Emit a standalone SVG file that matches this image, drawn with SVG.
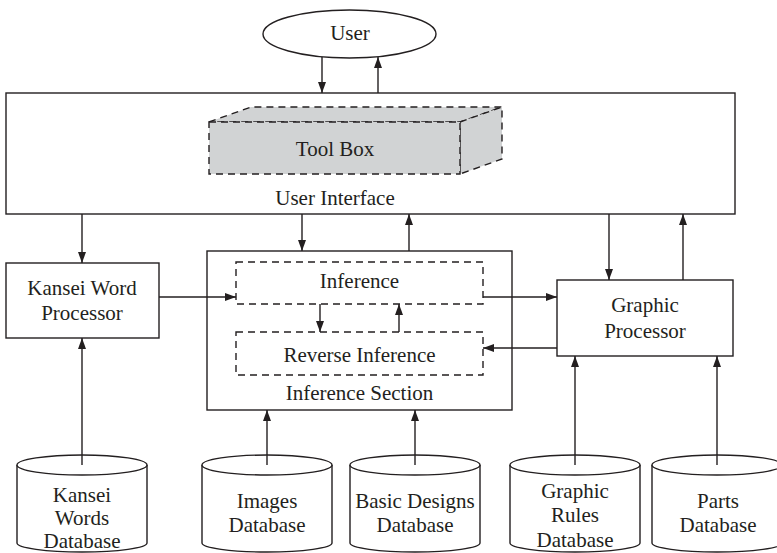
<svg xmlns="http://www.w3.org/2000/svg" width="777" height="553" viewBox="0 0 777 553">
<style>
.b{fill:#fff;stroke:#231f20;stroke-width:1.4}
.d{fill:none;stroke:#231f20;stroke-width:1.4;stroke-dasharray:7 5}
.g{fill:#d1d3d4;stroke:#231f20;stroke-width:1.4;stroke-dasharray:7 5;stroke-linejoin:miter}
.t{font-family:"Liberation Serif","DejaVu Serif",serif;font-size:21px;fill:#231f20;text-anchor:middle}
.c{fill:none;stroke:#231f20;stroke-width:1.4}
</style>
<defs>
<marker id="ah" markerUnits="userSpaceOnUse" markerWidth="11" markerHeight="8" refX="11" refY="4" orient="auto">
<path d="M0,0 L11,4 L0,8 z" fill="#231f20"/>
</marker>
</defs>
<rect width="777" height="553" fill="#fff"/>

<g id="user">
<ellipse class="b" cx="349.5" cy="34" rx="86.5" ry="24"/>
<text class="t" x="350" y="40">User</text>
</g>

<g id="user-interface">
<rect class="b" x="6" y="93" width="729" height="121"/>
<text class="t" x="335" y="205">User Interface</text>
</g>

<g id="tool-box">
<polygon class="g" points="209,122 251,107 502,107 460,122"/>
<polygon class="g" points="460,122 502,107 502,159 460,174"/>
<rect class="g" x="209" y="122" width="251" height="52"/>
<text class="t" x="335" y="156">Tool Box</text>
</g>

<g id="kansei-word-processor">
<rect class="b" x="6" y="263" width="153" height="75"/>
<text class="t" x="82" y="295">Kansei Word</text>
<text class="t" x="82" y="320">Processor</text>
</g>

<g id="inference-section">
<rect class="b" x="207" y="251" width="305" height="159"/>
<text class="t" x="359.5" y="400">Inference Section</text>
</g>

<g id="inference">
<rect class="d" x="236" y="262" width="247" height="42"/>
<text class="t" x="359.5" y="288">Inference</text>
</g>

<g id="reverse-inference">
<rect class="d" x="236" y="332" width="247" height="43"/>
<text class="t" x="359.5" y="362">Reverse Inference</text>
</g>

<g id="graphic-processor">
<rect class="b" x="557" y="280" width="176" height="76"/>
<text class="t" x="645" y="312">Graphic</text>
<text class="t" x="645" y="338">Processor</text>
</g>

<g id="kansei-words-db">
<path class="b" d="M17,465 L17,543 A65,9 0 0 0 147,543 L147,465"/>
<ellipse class="b" cx="82" cy="465" rx="65" ry="10"/>
<text class="t" x="82" y="502">Kansei</text>
<text class="t" x="82" y="525">Words</text>
<text class="t" x="82" y="548">Database</text>
</g>

<g id="images-db">
<path class="b" d="M202,465 L202,543 A65,9 0 0 0 332,543 L332,465"/>
<ellipse class="b" cx="267" cy="465" rx="65" ry="10"/>
<text class="t" x="267" y="508">Images</text>
<text class="t" x="267" y="532">Database</text>
</g>

<g id="basic-designs-db">
<path class="b" d="M350,465 L350,543 A65,9 0 0 0 480,543 L480,465"/>
<ellipse class="b" cx="415" cy="465" rx="65" ry="10"/>
<text class="t" x="415" y="508">Basic Designs</text>
<text class="t" x="415" y="532">Database</text>
</g>

<g id="graphic-rules-db">
<path class="b" d="M510,465 L510,543 A65,9 0 0 0 640,543 L640,465"/>
<ellipse class="b" cx="575" cy="465" rx="65" ry="10"/>
<text class="t" x="575" y="498">Graphic</text>
<text class="t" x="575" y="522">Rules</text>
<text class="t" x="575" y="547">Database</text>
</g>

<g id="parts-db">
<path class="b" d="M652,465 L652,543 A65,9 0 0 0 782,543 L782,465"/>
<ellipse class="b" cx="717" cy="465" rx="65" ry="10"/>
<text class="t" x="718" y="508">Parts</text>
<text class="t" x="718" y="532">Database</text>
</g>

<g id="connectors">
<line class="c" x1="322" y1="57" x2="322" y2="93" marker-end="url(#ah)"/>
<line class="c" x1="378" y1="93" x2="378" y2="57" marker-end="url(#ah)"/>
<line class="c" x1="82" y1="214" x2="82" y2="263" marker-end="url(#ah)"/>
<line class="c" x1="302" y1="214" x2="302" y2="251" marker-end="url(#ah)"/>
<line class="c" x1="409" y1="251" x2="409" y2="214" marker-end="url(#ah)"/>
<line class="c" x1="609" y1="214" x2="609" y2="280" marker-end="url(#ah)"/>
<line class="c" x1="683" y1="280" x2="683" y2="214" marker-end="url(#ah)"/>
<line class="c" x1="159" y1="297" x2="236" y2="297" marker-end="url(#ah)"/>
<line class="c" x1="483" y1="297" x2="557" y2="297" marker-end="url(#ah)"/>
<line class="c" x1="557" y1="348" x2="483" y2="348" marker-end="url(#ah)"/>
<line class="c" x1="320" y1="304" x2="320" y2="332" marker-end="url(#ah)"/>
<line class="c" x1="399" y1="332" x2="399" y2="304" marker-end="url(#ah)"/>
<line class="c" x1="82" y1="465" x2="82" y2="338" marker-end="url(#ah)"/>
<line class="c" x1="267" y1="465" x2="267" y2="410" marker-end="url(#ah)"/>
<line class="c" x1="415" y1="465" x2="415" y2="410" marker-end="url(#ah)"/>
<line class="c" x1="575" y1="465" x2="575" y2="356" marker-end="url(#ah)"/>
<line class="c" x1="717" y1="465" x2="717" y2="356" marker-end="url(#ah)"/>
</g>
</svg>
